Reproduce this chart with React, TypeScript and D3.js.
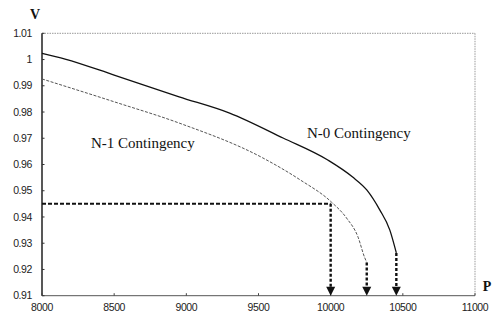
import React from "react";
import * as d3 from "d3";

// Axis ticks
const pTicks = [8000, 8500, 9000, 9500, 10000, 10500, 11000];
const vTicks = [0.91, 0.92, 0.93, 0.94, 0.95, 0.96, 0.97, 0.98, 0.99, 1.0, 1.01];

// N-0 contingency PV curve
const n0P = [8000, 8160, 8500, 8950, 9300, 9670, 9980, 10150, 10250, 10340, 10410, 10455];
const n0V = [1.0024, 1.0002, 0.9941, 0.9858, 0.9796, 0.9701, 0.9617, 0.9553, 0.9503, 0.9427, 0.935, 0.9263];

// N-1 contingency PV curve
const n1P = [8000, 8500, 8950, 9530, 9790, 10005, 10110, 10190, 10235, 10250];
const n1V = [0.9926, 0.9839, 0.9758, 0.9625, 0.9541, 0.9457, 0.9396, 0.9323, 0.9246, 0.9227];

// Operating margin markers: reference voltage and the three arrowed loads
const vRef = 0.945;
const arrowP = [10000, 10250, 10455];
const arrowV = [0.945, 0.9227, 0.9263];

const W = 503;
const H = 322;
const x = d3.scaleLinear().domain([8000, 11000]).range([42, 475]);
const y = d3.scaleLinear().domain([0.91, 1.01]).range([295.7, 33.3]);

const line = d3
  .line<[number, number]>()
  .x((d) => x(d[0]))
  .y((d) => y(d[1]))
  .curve(d3.curveMonotoneX);

const n0 = n0P.map((p, i) => [p, n0V[i]] as [number, number]);
const n1 = n1P.map((p, i) => [p, n1V[i]] as [number, number]);

const sans = "'Liberation Sans', Arial, sans-serif";
const serif = "'Liberation Serif', 'Times New Roman', serif";

export default function App() {
  const [x0, x1] = x.range();
  const [yb, yt] = y.range();
  return (
    <div style={{ position: "absolute", left: 0, top: 0 }}>
      <svg width={W} height={H} style={{ display: "block", background: "#fff" }}>
        {/* frame */}
        <line x1={x0} x2={x1} y1={yt} y2={yt} stroke="#999" strokeWidth={1} strokeDasharray="1.5,1" />
        <line x1={x1} x2={x1} y1={yt} y2={yb} stroke="#999" strokeWidth={1} strokeDasharray="1.5,1" />
        <line x1={x0} x2={x1} y1={yb} y2={yb} stroke="#555" strokeWidth={1} />
        <line x1={x0} x2={x0} y1={yt} y2={yb} stroke="#111" strokeWidth={1.4} />

        {/* y ticks */}
        {vTicks.map((v) => (
          <g key={v}>
            <line x1={x0} x2={x0 + 2.5} y1={y(v)} y2={y(v)} stroke="#333" strokeWidth={1} />
            <text
              x={32}
              y={y(v)}
              dy="0.35em"
              textAnchor="end"
              fontFamily={sans}
              fontSize={10.5}
              letterSpacing={-0.4}
              fill="#222"
            >
              {String(+v.toFixed(2))}
            </text>
          </g>
        ))}

        {/* x ticks */}
        {pTicks.map((p) => (
          <g key={p}>
            <line x1={x(p)} x2={x(p)} y1={yb} y2={yb - 2.5} stroke="#444" strokeWidth={1} />
            <text
              x={x(p)}
              y={310.5}
              textAnchor="middle"
              fontFamily={sans}
              fontSize={10.5}
              letterSpacing={-0.4}
              fill="#222"
            >
              {p}
            </text>
          </g>
        ))}

        {/* axis titles */}
        <text x={35} y={18.5} textAnchor="middle" fontFamily={serif} fontWeight="bold" fontSize={14} fill="#111">
          V
        </text>
        <text x={487} y={291} textAnchor="middle" fontFamily={serif} fontWeight="bold" fontSize={14} fill="#111">
          P
        </text>

        {/* curves */}
        <path d={line(n0) ?? ""} fill="none" stroke="#111" strokeWidth={1.3} />
        <path d={line(n1) ?? ""} fill="none" stroke="#555" strokeWidth={1} strokeDasharray="3,1.5" />

        {/* reference voltage */}
        <line
          x1={x0}
          x2={x(arrowP[0])}
          y1={y(vRef)}
          y2={y(vRef)}
          stroke="#111"
          strokeWidth={2}
          strokeDasharray="4,2"
        />

        {/* arrows down to the P axis */}
        {arrowP.map((p, i) => {
          const ax = x(p);
          return (
            <g key={p}>
              <line
                x1={ax}
                x2={ax}
                y1={y(arrowV[i])}
                y2={yb - 7}
                stroke="#111"
                strokeWidth={2.4}
                strokeDasharray="3,2"
              />
              <path d={`M${ax - 4.5},${yb - 9}L${ax + 4.5},${yb - 9}L${ax},${yb}Z`} fill="#111" />
            </g>
          );
        })}

        {/* curve labels */}
        <text x={91} y={147.5} fontFamily={serif} fontSize={15} fill="#111">
          N-1 Contingency
        </text>
        <text x={307} y={137.5} fontFamily={serif} fontSize={15} fill="#111">
          N-0 Contingency
        </text>
      </svg>
    </div>
  );
}
